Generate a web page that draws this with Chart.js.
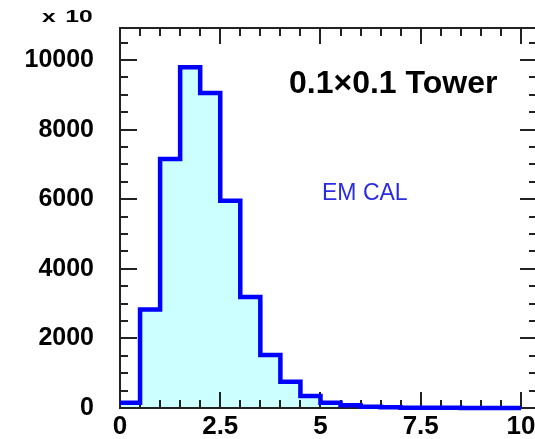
<!DOCTYPE html>
<html>
<head>
<meta charset="utf-8">
<script src="https://cdn.jsdelivr.net/npm/chart.js@4.4.1/dist/chart.umd.min.js"></script>
<style>
  html, body { margin: 0; padding: 0; background: #ffffff; overflow: hidden; width: 535px; height: 439px; }
  canvas { display: block; }
</style>
</head>
<body>
<canvas id="c" width="545" height="460"></canvas>
<script>
// ---- data (bins of width 0.5) ----
const binStarts = [0, 0.5, 1, 1.5, 2, 2.5, 3, 3.5, 4, 4.5, 5, 5.5, 6, 6.5, 7, 7.5, 8, 8.5, 9, 9.5];
const binEnd = 10;
const counts = [150, 2830, 7155, 9790, 9050, 5955, 3190, 1523, 756, 345, 152, 78, 35, 18, 10, 6, 4, 3, 2, 1];

const xTickValues = [0, 2.5, 5, 7.5, 10];
const xTickLabels = ['0', '2.5', '5', '7.5', '10'];
const yTickValues = [0, 2000, 4000, 6000, 8000, 10000];
const yTickLabels = ['0', '2000', '4000', '6000', '8000', '10000'];

const xMinorStep = 0.5;
const yMinorStep = 500;

const scaleNote = 'x 10';
const titleText = '0.1\u00d70.1 Tower';
const seriesLabel = 'EM CAL';

// ---- build step points ----
const points = binStarts.map((x, i) => ({ x: x, y: counts[i] }));
points.push({ x: binEnd, y: counts[counts.length - 1] });

const FONT = '"Liberation Sans", Arial, Helvetica, sans-serif';

const frameTicks = {
  id: 'frameTicks',
  beforeDatasetsDraw(chart) {
    const { ctx, chartArea: a } = chart;
    const xs = chart.scales.x, ys = chart.scales.y;
    ctx.save();
    ctx.strokeStyle = '#222222';
    ctx.lineWidth = 2;
    ctx.beginPath();
    for (let v = xs.min; v <= xs.max + 1e-9; v += xMinorStep) {
      const px = Math.round(xs.getPixelForValue(v));
      const major = Math.abs(v / 2.5 - Math.round(v / 2.5)) < 1e-9;
      const len = major ? 16 : 8;
      ctx.moveTo(px, a.bottom); ctx.lineTo(px, a.bottom - len);
      ctx.moveTo(px, a.top); ctx.lineTo(px, a.top + len);
    }
    for (let v = ys.min; v <= ys.max + 1e-9; v += yMinorStep) {
      const py = Math.round(ys.getPixelForValue(v));
      const major = v % 2000 === 0;
      const len = major ? 17 : 8;
      ctx.moveTo(a.left, py); ctx.lineTo(a.left + len, py);
      ctx.moveTo(a.right, py); ctx.lineTo(a.right - len, py);
    }
    ctx.stroke();
    ctx.strokeRect(a.left, a.top, a.right - a.left, a.bottom - a.top);
    ctx.restore();
  },
  afterDraw(chart) {
    const { ctx } = chart;
    ctx.save();
    ctx.fillStyle = '#000000';
    ctx.textBaseline = 'alphabetic';
    ctx.textAlign = 'left';
    // "x 10" (horizontally stretched like the reference)
    ctx.font = 'bold 17px ' + FONT;
    ctx.save();
    ctx.translate(42, 22);
    ctx.scale(1.45, 1);
    ctx.fillText('x', 0, 0);
    ctx.fillText('10', 16, 0);
    ctx.restore();
    // title
    ctx.font = 'bold 32px ' + FONT;
    ctx.fillText(titleText, 289, 93);
    // series label
    ctx.fillStyle = '#2b2be0';
    ctx.font = '23px ' + FONT;
    ctx.fillText(seriesLabel, 322, 200);
    ctx.restore();
  }
};

function noPad(scale) {
  scale.paddingTop = 0; scale.paddingBottom = 0;
  scale.paddingLeft = 0; scale.paddingRight = 0;
}

new Chart(document.getElementById('c'), {
  type: 'line',
  data: {
    datasets: [{
      label: seriesLabel,
      data: points,
      stepped: true,
      borderColor: '#0000ff',
      borderWidth: 4.5,
      backgroundColor: '#ccffff',
      fill: 'origin',
      pointRadius: 0,
      tension: 0,
      clip: 3
    }]
  },
  options: {
    responsive: false,
    animation: false,
    devicePixelRatio: 1,
    layout: { padding: { left: 0, top: 28, right: 8, bottom: 0 } },
    plugins: {
      legend: { display: false },
      tooltip: { enabled: false },
      filler: { drawTime: 'beforeDatasetsDraw' }
    },
    scales: {
      x: {
        type: 'linear',
        min: 0,
        max: 10.4,
        grid: { display: false, drawTicks: false },
        border: { display: false },
        afterBuildTicks(scale) { scale.ticks = xTickValues.map(v => ({ value: v })); },
        afterFit(scale) { scale.height = 52; noPad(scale); },
        ticks: {
          autoSkip: false,
          maxRotation: 0,
          padding: 3,
          color: '#000000',
          font: { family: FONT, size: 26, weight: 'bold' },
          callback(value) { const i = xTickValues.indexOf(value); return i >= 0 ? xTickLabels[i] : ''; }
        }
      },
      y: {
        type: 'linear',
        min: 0,
        max: 10920,
        grid: { display: false, drawTicks: false },
        border: { display: false },
        afterBuildTicks(scale) { scale.ticks = yTickValues.map(v => ({ value: v })); },
        afterFit(scale) { scale.width = 120; noPad(scale); },
        ticks: {
          autoSkip: false,
          padding: 26,
          color: '#000000',
          font: { family: FONT, size: 25, weight: 'bold' },
          callback(value) { const i = yTickValues.indexOf(value); return i >= 0 ? yTickLabels[i] : ''; }
        }
      }
    }
  },
  plugins: [frameTicks]
});
</script>
</body>
</html>
